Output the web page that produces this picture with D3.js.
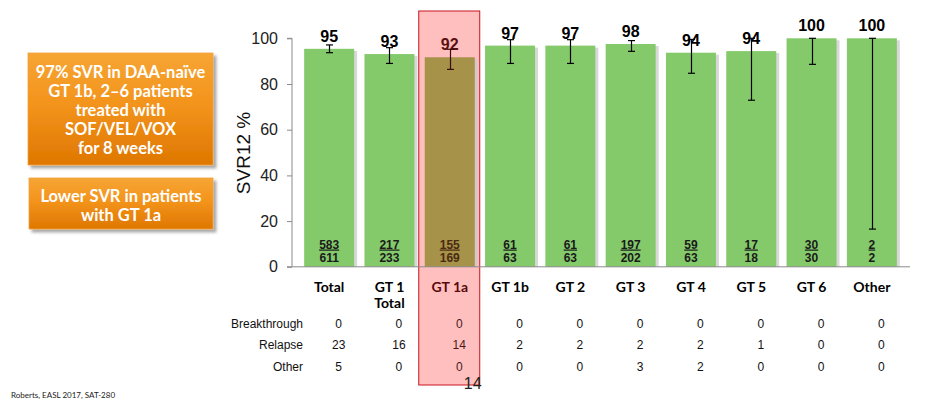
<!DOCTYPE html>
<html>
<head>
<meta charset="utf-8">
<script src="https://cdn.jsdelivr.net/npm/d3@7/dist/d3.min.js"></script>
<style>
  html, body { margin: 0; padding: 0; background: #fff; }
  svg { display: block; }
</style>
</head>
<body>
<svg id="chart" width="935" height="405"></svg>
<script>
// ---- data ----
const categories = ["Total", "GT 1\nTotal", "GT 1a", "GT 1b", "GT 2", "GT 3", "GT 4", "GT 5", "GT 6", "Other"];
const svr = [95.4, 93.1, 91.7, 96.8, 96.8, 97.5, 93.7, 94.4, 100, 100];
const svrLabels = ["95", "93", "92", "97", "97", "98", "94", "94", "100", "100"];
const ciLow = [93.7, 89.0, 86.4, 89.0, 89.0, 94.3, 84.7, 72.9, 88.6, 16.5];
const ciHigh = [97.1, 95.9, 95.2, 99.4, 99.4, 99.0, 99.5, 100, 100, 100];
const responders = [583, 217, 155, 61, 61, 197, 59, 17, 30, 2];
const totals = [611, 233, 169, 63, 63, 202, 63, 18, 30, 2];
const tableRows = ["Breakthrough", "Relapse", "Other"];
const breakthrough = [0, 0, 0, 0, 0, 0, 0, 0, 0, 0];
const relapse = [23, 16, 14, 2, 2, 2, 2, 1, 0, 0];
const otherFail = [5, 0, 0, 0, 0, 3, 2, 0, 0, 0];
const yTicks = [0, 20, 40, 60, 80, 100];
const highlighted = "GT 1a";
const box1Lines = ["97% SVR in DAA-naïve", "GT 1b, 2–6 patients", "treated with", "SOF/VEL/VOX", "for 8 weeks"];
const box2Lines = ["Lower SVR in patients", "with GT 1a"];
const footnote = "Roberts, EASL 2017, SAT-280";
const extraMark = "14";

// ---- setup ----
const svg = d3.select("#chart");
const x = d3.scaleBand().domain(categories).range([299, 902]).paddingInner(0.171).paddingOuter(0.0855);
const y = d3.scaleLinear().domain([0, 100]).range([266.8, 38.3]);
const green = "#84CA6B";
const olive = "#A69249";

const defs = svg.append("defs");
const grad = defs.append("linearGradient").attr("id", "orange").attr("x1", 0).attr("y1", 0).attr("x2", 0).attr("y2", 1);
grad.append("stop").attr("offset", "0%").attr("stop-color", "#F6A535");
grad.append("stop").attr("offset", "45%").attr("stop-color", "#F3941C");
grad.append("stop").attr("offset", "100%").attr("stop-color", "#DF7700");
const sh = defs.append("filter").attr("id", "shadow").attr("x", "-10%").attr("y", "-10%").attr("width", "130%").attr("height", "130%");
sh.append("feDropShadow").attr("dx", 3).attr("dy", 3).attr("stdDeviation", 1.5).attr("flood-color", "#000").attr("flood-opacity", 0.35);

// ---- highlight box ----
const hx = x(highlighted);
svg.append("rect")
  .attr("x", hx - 6).attr("y", 11)
  .attr("width", x.bandwidth() + 11).attr("height", 374)
  .attr("fill", "#FFBFBF").attr("stroke", "#C8141E").attr("stroke-width", 1);

// ---- y axis ----
const yAxis = d3.axisLeft(y).tickValues(yTicks).tickSize(5).tickPadding(9);
const gy = svg.append("g").attr("transform", "translate(292,0)").call(yAxis);
gy.select(".domain").attr("stroke", "#8a8a8a").attr("d", `M-5,${y(0)}H0V${y(100)}H-5`);
gy.selectAll(".tick line").attr("stroke", "#8a8a8a");
gy.selectAll(".tick text").attr("font-family", "Liberation Sans, Arial, sans-serif").attr("font-size", 16).attr("fill", "#222");

svg.append("text")
  .attr("transform", `translate(250,153) rotate(-90)`)
  .attr("text-anchor", "middle")
  .attr("font-family", "Liberation Sans, Arial, sans-serif").attr("font-size", 19).attr("fill", "#111")
  .text("SVR12 %");

// ---- bars ----
const idx = d3.range(categories.length);
svg.append("g").selectAll("rect").data(idx).join("rect")
  .attr("x", i => x(categories[i]) + 3).attr("y", i => y(svr[i]) + 2)
  .attr("width", x.bandwidth()).attr("height", i => y(0) - y(svr[i]) - 2)
  .attr("fill", "#c8c8c8").attr("opacity", 0.7);
svg.append("g").selectAll("rect").data(idx).join("rect")
  .attr("x", i => x(categories[i])).attr("y", i => y(svr[i]))
  .attr("width", x.bandwidth()).attr("height", i => y(0) - y(svr[i]))
  .attr("fill", i => categories[i] === highlighted ? olive : green);

// baseline
svg.append("line").attr("x1", 292).attr("x2", 910).attr("y1", y(0)).attr("y2", y(0)).attr("stroke", "#8a8a8a");

// ---- value labels ----
const cx = i => x(categories[i]) + x.bandwidth() / 2;
svg.append("g").selectAll("text").data(idx).join("text")
  .attr("x", cx).attr("y", i => y(svr[i]) - 7)
  .attr("text-anchor", "middle")
  .attr("font-family", "Liberation Sans, Arial, sans-serif").attr("font-weight", "bold").attr("font-size", 16)
  .attr("fill", i => categories[i] === highlighted ? "#5a1010" : "#000")
  .text(i => svrLabels[i]);

// ---- error bars ----
const eb = svg.append("g").attr("stroke-width", 1.2);
idx.forEach(i => {
  const c = Math.round(cx(i)) + 0.5;
  const col = categories[i] === highlighted ? "#3a0c0c" : "#000";
  eb.append("line").attr("x1", c).attr("x2", c).attr("y1", y(ciLow[i])).attr("y2", y(ciHigh[i])).attr("stroke", col);
  eb.append("line").attr("x1", c - 3.5).attr("x2", c + 3.5).attr("y1", y(ciLow[i])).attr("y2", y(ciLow[i])).attr("stroke", col);
  eb.append("line").attr("x1", c - 3.5).attr("x2", c + 3.5).attr("y1", y(ciHigh[i])).attr("y2", y(ciHigh[i])).attr("stroke", col);
});

// ---- fractions ----
const fr = svg.append("g").attr("font-family", "Liberation Sans, Arial, sans-serif").attr("font-weight", "bold").attr("font-size", 12).attr("text-anchor", "middle");
idx.forEach(i => {
  const col = categories[i] === highlighted ? "#4a2a10" : "#1a1a1a";
  fr.append("text").attr("x", cx(i)).attr("y", 248.5).attr("fill", col).attr("text-decoration", "underline").text(responders[i]);
  fr.append("text").attr("x", cx(i)).attr("y", 261.5).attr("fill", col).text(totals[i]);
});

// ---- category labels ----
const cl = svg.append("g").attr("font-family", "Lato, sans-serif").attr("font-weight", "bold").attr("font-size", 14).attr("text-anchor", "middle");
idx.forEach(i => {
  const lines = categories[i].split("\n");
  lines.forEach((ln, k) => {
    cl.append("text").attr("x", cx(i)).attr("y", 292 + k * 16)
      .attr("fill", categories[i] === highlighted ? "#5a0a0a" : "#000").text(ln);
  });
});

// ---- table ----
const tab = svg.append("g").attr("font-family", "Liberation Sans, Arial, sans-serif").attr("font-size", 12).attr("fill", "#111");
const rowsData = [breakthrough, relapse, otherFail];
const rowY = [328, 349, 370.5];
tableRows.forEach((r, k) => {
  tab.append("text").attr("x", 303).attr("y", rowY[k]).attr("text-anchor", "end").text(r);
  idx.forEach(i => {
    tab.append("text").attr("x", cx(i) + 9.5).attr("y", rowY[k]).attr("text-anchor", "middle")
      .attr("fill", categories[i] === highlighted ? "#4a1a1a" : "#111")
      .text(rowsData[k][i]);
  });
});
svg.append("text").attr("x", cx(2) + 23).attr("y", 389).attr("text-anchor", "middle")
  .attr("font-family", "Liberation Sans, Arial, sans-serif").attr("font-size", 16).attr("fill", "#222").text(extraMark);

// ---- left boxes ----
function box(x0, y0, w, h, lines, firstY) {
  svg.append("rect").attr("x", x0).attr("y", y0).attr("width", w).attr("height", h)
    .attr("fill", "url(#orange)").attr("stroke", "#F0A040").attr("stroke-width", 0.8).attr("filter", "url(#shadow)");
  const t = svg.append("g").attr("font-family", "Lato, sans-serif").attr("font-weight", "bold").attr("font-size", 16.5)
    .attr("fill", "#fff").attr("text-anchor", "middle");
  lines.forEach((ln, k) => t.append("text").attr("x", x0 + w / 2).attr("y", firstY + k * 19).text(ln));
}
box(28, 53, 185, 112, box1Lines, 78);
box(29, 178, 184, 51, box2Lines, 202);

svg.append("text").attr("x", 11).attr("y", 398).attr("font-family", "Lato, sans-serif").attr("font-size", 8).attr("fill", "#222").text(footnote);
</script>
</body>
</html>
